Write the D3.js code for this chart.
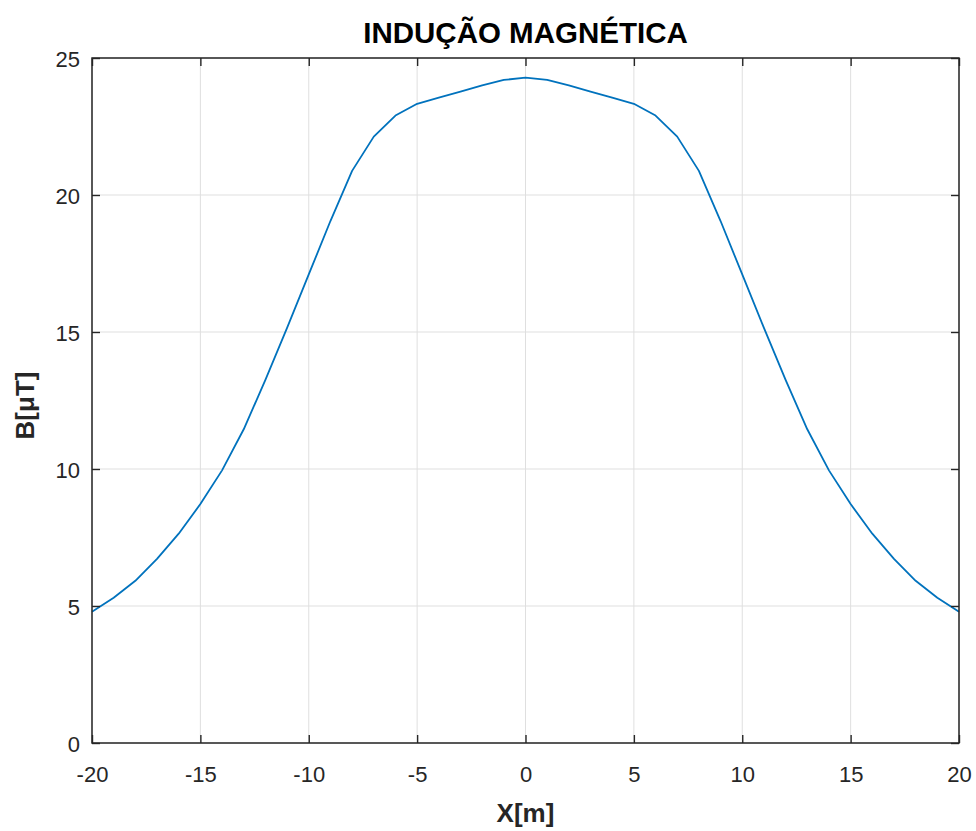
<!DOCTYPE html>
<html>
<head>
<meta charset="utf-8">
<script src="https://cdn.jsdelivr.net/npm/d3@7"></script>
<style>
  body { margin: 0; background: #fff; }
  svg { display: block; font-family: "Liberation Sans", Arial, Helvetica, sans-serif; }
</style>
</head>
<body>
<svg id="chart" width="976" height="831"></svg>
<script>
// distance along x [m] and flux density B [uT]
var xValues = [-20, -19, -18, -17, -16, -15, -14, -13, -12, -11, -10, -9, -8, -7, -6, -5, -4, -3, -2, -1,
               0, 1, 2, 3, 4, 5, 6, 7, 8, 9, 10, 11, 12, 13, 14, 15, 16, 17, 18, 19, 20];
var bValues = [4.79, 5.30, 5.92, 6.72, 7.64, 8.72, 9.95, 11.45, 13.25, 15.15, 17.10, 19.05, 20.88, 22.13, 22.90, 23.33, 23.55, 23.77, 24.00, 24.20,
               24.28, 24.20, 24.00, 23.77, 23.55, 23.33, 22.90, 22.13, 20.88, 19.05, 17.10, 15.15, 13.25, 11.45, 9.95, 8.72, 7.64, 6.72, 5.92, 5.30, 4.79];
var xTicks = [-20, -15, -10, -5, 0, 5, 10, 15, 20];
var yTicks = [0, 5, 10, 15, 20, 25];

var chartTitle = "INDUÇÃO MAGNÉTICA";
var xLabel = "X[m]";
var yLabel = "B[μT]";

// plot box (window.top is reserved, so pad* names)
var padL = 92, padR = 959, padT = 58, padB = 743;
var axisColor = "#262626";

var svg = d3.select("#chart");

var x = d3.scaleLinear().domain([-20, 20]).range([padL, padR]);
var y = d3.scaleLinear().domain([0, 25]).range([padB, padT]);

// grid
var grid = svg.append("g").attr("stroke", "#dfdfdf").attr("stroke-width", 1);
grid.selectAll(".gx").data(xTicks).enter().append("line")
    .attr("x1", function(d){ return x(d); }).attr("x2", function(d){ return x(d); })
    .attr("y1", padT).attr("y2", padB);
grid.selectAll(".gy").data(yTicks).enter().append("line")
    .attr("x1", padL).attr("x2", padR)
    .attr("y1", function(d){ return y(d); }).attr("y2", function(d){ return y(d); });

// the curve
var line = d3.line()
    .x(function(d, i){ return x(xValues[i]); })
    .y(function(d){ return y(d); });

svg.append("path")
    .datum(bValues)
    .attr("fill", "none")
    .attr("stroke", "#0072BD")
    .attr("stroke-width", 1.8)
    .attr("stroke-linejoin", "round")
    .attr("d", line);

// axes, ticks pointing in (matlab style, box on)
var fmt = function(d){ return String(d); };

function styleAxis(g){
    g.select(".domain").remove();
    g.selectAll(".tick line").attr("stroke", axisColor).attr("stroke-width", 1.4);
    g.selectAll(".tick text").attr("fill", axisColor).attr("font-size", 22)
        .attr("font-family", "Liberation Sans, Arial, sans-serif");
}

var xAxis = svg.append("g")
    .attr("transform", "translate(0," + padB + ")")
    .call(d3.axisBottom(x).tickValues(xTicks).tickSizeInner(-8).tickSizeOuter(0).tickFormat(fmt));
styleAxis(xAxis);
xAxis.selectAll(".tick text").attr("dy", null).attr("y", 39);

var xAxisTop = svg.append("g")
    .attr("transform", "translate(0," + padT + ")")
    .call(d3.axisTop(x).tickValues(xTicks).tickSizeInner(-8).tickSizeOuter(0).tickFormat(""));
styleAxis(xAxisTop);

var yAxis = svg.append("g")
    .attr("transform", "translate(" + padL + ",0)")
    .call(d3.axisLeft(y).tickValues(yTicks).tickSizeInner(-8).tickSizeOuter(0).tickFormat(fmt));
styleAxis(yAxis);
yAxis.selectAll(".tick text").attr("x", -12).attr("dy", "0.38em");

var yAxisRight = svg.append("g")
    .attr("transform", "translate(" + padR + ",0)")
    .call(d3.axisRight(y).tickValues(yTicks).tickSizeInner(-8).tickSizeOuter(0).tickFormat(""));
styleAxis(yAxisRight);

// box
svg.append("rect")
    .attr("x", padL).attr("y", padT)
    .attr("width", padR - padL).attr("height", padB - padT)
    .attr("fill", "none")
    .attr("stroke", axisColor)
    .attr("stroke-width", 1.5);

// labels
svg.append("text")
    .attr("x", (padL + padR) / 2).attr("y", 43)
    .attr("text-anchor", "middle")
    .attr("font-size", 29.5).attr("font-weight", "bold")
    .attr("fill", "#000")
    .text(chartTitle);

svg.append("text")
    .attr("x", (padL + padR) / 2).attr("y", 822)
    .attr("text-anchor", "middle")
    .attr("font-size", 26).attr("font-weight", "bold")
    .attr("fill", axisColor)
    .text(xLabel);

svg.append("text")
    .attr("transform", "translate(34," + ((padT + padB) / 2 + 5) + ") rotate(-90)")
    .attr("text-anchor", "middle")
    .attr("font-size", 26).attr("font-weight", "bold")
    .attr("fill", axisColor)
    .text(yLabel);
</script>
</body>
</html>
